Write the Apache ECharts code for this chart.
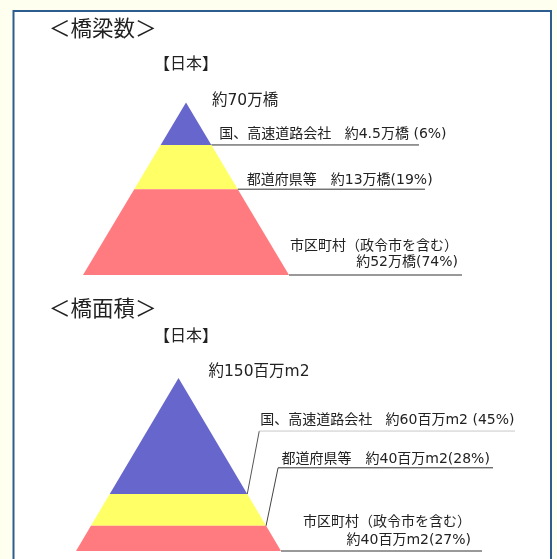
<!DOCTYPE html>
<html>
<head>
<meta charset="utf-8">
<script src="https://cdn.jsdelivr.net/npm/echarts@6/dist/echarts.min.js"></script>
<style>html,body{margin:0;padding:0;background:#fffff0;}#c{width:557px;height:559px;}</style>
</head>
<body>
<div id="c"></div>
<script>
// ---- data ----
const countTitle = '＜橋梁数＞';
const areaTitle = '＜橋面積＞';
const regionLabel = '【日本】';
const categories = ['国、高速道路会社', '都道府県等', '市区町村（政令市を含む）'];
const countTotal = 70;            // 万橋
const countValues = [4.5, 13, 52]; // 万橋
const countShares = [6, 19, 74];   // %
const areaTotal = 150;            // 百万m2
const areaValues = [60, 40, 40];   // 百万m2
const areaShares = [45, 28, 27];   // %

// ---- styles / layout ----
const bandColors = ['#6666cc', '#ffff66', '#ff7b7f'];
const FONT = '"Noto Sans CJK JP", sans-serif';
const LFONT = '"DejaVu Sans", "Noto Sans CJK JP", sans-serif';
const TXT = '#222';

function labelTexts(vals, shares, unit) {
  return [
    categories[0] + '   約' + vals[0] + unit + ' (' + shares[0] + '%)',
    categories[1] + '　約' + vals[1] + unit + '(' + shares[1] + '%)',
    [categories[2], '約' + vals[2] + unit + '(' + shares[2] + '%)']
  ];
}

// area-proportional bands: depth fraction = sqrt(cumulative share)
function bands(shares) {
  const sum = shares.reduce((a, b) => a + b, 0);
  let cum = 0;
  return shares.map((s, i) => {
    const y0 = Math.sqrt(cum / sum);
    cum += s;
    const y1 = Math.sqrt(cum / sum);
    return [y0, y1, i];
  });
}

const pyramids = [
  {
    grid: { left: 83, top: 102.5, width: 206, height: 172.5 },
    total: '約' + countTotal + '万橋', totalOff: [26, -2],
    labels: labelTexts(countValues, countShares, '万橋'),
    shares: countShares,
    leaders: [
      { dx: 0, dy: 0, endX: 419, color: '#333', w: 1, tx: 8, ty: -10.5 },
      { dx: 0, dy: 0, endX: 425, color: '#333', w: 1, tx: 9, ty: -9 },
      { dx: 0, dy: 0, endX: 462, color: '#999', w: 2, right: 458, ty1: -28.3, ty2: -12.3 }
    ]
  },
  {
    grid: { left: 76, top: 378, width: 205, height: 173 },
    total: '約' + areaTotal + '百万m2', totalOff: [30, -6],
    labels: labelTexts(areaValues, areaShares, '百万m2'),
    shares: areaShares,
    leaders: [
      { dx: 12, dy: -63, endX: 515, color: '#c8c8c8', diag: '#555', w: 1, tx: 1, ty: -10.3 },
      { dx: 12, dy: -58, endX: 493, color: '#333', diag: '#444', w: 1, tx: 3.4, ty: -8.4 },
      { dx: 0, dy: 0, endX: 482, color: '#999', w: 2, right: 471, ty1: -28.4, ty2: -10.7 }
    ]
  }
];

function makeRender(p) {
  return function (params, api) {
    const y0 = api.value(0), y1 = api.value(1), i = api.value(2);
    const pts = [api.coord([-y0, y0]), api.coord([y0, y0]), api.coord([y1, y1]), api.coord([-y1, y1])];
    const children = [{
      type: 'polygon', shape: { points: pts },
      style: { fill: bandColors[i], stroke: null }
    }];
    const L = p.leaders[i];
    const start = api.coord([y1, y1]);
    const elbow = [start[0] + L.dx, start[1] + L.dy];
    const end = [L.endX, elbow[1]];
    if (L.dx || L.dy) {
      children.push({ type: 'polyline', shape: { points: [start, elbow] }, style: { stroke: L.diag, lineWidth: 1, fill: null } });
    }
    children.push({ type: 'polyline', shape: { points: [elbow, end] }, style: { stroke: L.color, lineWidth: L.w, fill: null } });
    const lab = p.labels[i];
    const f = '14px ' + LFONT;
    if (Array.isArray(lab)) {
      children.push({ type: 'text', style: { text: lab[0], x: L.right, y: elbow[1] + L.ty1, textAlign: 'right', textVerticalAlign: 'middle', fill: TXT, font: f } });
      children.push({ type: 'text', style: { text: lab[1], x: L.right, y: elbow[1] + L.ty2, textAlign: 'right', textVerticalAlign: 'middle', fill: TXT, font: f } });
    } else {
      children.push({ type: 'text', style: { text: lab, x: elbow[0] + L.tx, y: elbow[1] + L.ty, textAlign: 'left', textVerticalAlign: 'middle', fill: TXT, font: f } });
    }
    if (i === 0) {
      const apex = api.coord([0, 0]);
      children.push({ type: 'text', style: { text: p.total, x: apex[0] + p.totalOff[0], y: apex[1] + p.totalOff[1], textAlign: 'left', textVerticalAlign: 'middle', fill: TXT, font: '15.5px ' + LFONT } });
    }
    return { type: 'group', children: children };
  };
}

const chart = echarts.init(document.getElementById('c'), null, { renderer: 'canvas' });
const option = {
  backgroundColor: '#fffff0',
  animation: false,
  graphic: [
    { type: 'rect', z: -10, shape: { x: 13.5, y: 11, width: 537.5, height: 600 }, style: { fill: '#ffffff', stroke: '#2d5d8e', lineWidth: 2 } },
    { type: 'text', left: 49, top: 17, style: { text: countTitle, fill: TXT, font: '21.5px ' + FONT } },
    { type: 'text', left: 154, top: 55, style: { text: regionLabel, fill: TXT, font: '16px ' + FONT } },
    { type: 'text', left: 49, top: 297, style: { text: areaTitle, fill: TXT, font: '21.5px ' + FONT } },
    { type: 'text', left: 154, top: 327, style: { text: regionLabel, fill: TXT, font: '16px ' + FONT } }
  ],
  grid: pyramids.map(p => Object.assign({ show: false }, p.grid)),
  xAxis: pyramids.map((p, k) => ({ type: 'value', gridIndex: k, min: -1, max: 1, show: false })),
  yAxis: pyramids.map((p, k) => ({ type: 'value', gridIndex: k, min: 0, max: 1, inverse: true, show: false })),
  series: pyramids.map((p, k) => ({
    type: 'custom', xAxisIndex: k, yAxisIndex: k,
    renderItem: makeRender(p),
    data: bands(p.shares),
    clip: false
  }))
};
chart.setOption(option);
</script>
</body>
</html>
